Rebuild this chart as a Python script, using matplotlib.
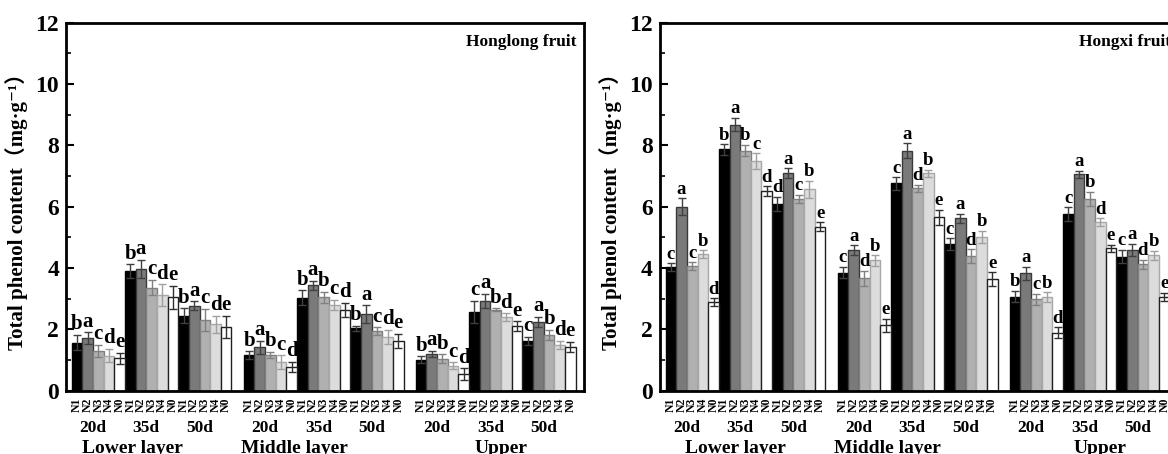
import numpy as np
import matplotlib
matplotlib.use('Agg')
from matplotlib import pyplot as plt
from matplotlib.ticker import MultipleLocator

plt.rcParams['font.family'] = ['Liberation Serif', 'Noto Sans CJK SC', 'DejaVu Serif']
plt.rcParams['font.weight'] = 'bold'

treatments = ['N1', 'N2', 'N3', 'N4', 'N0']
days = ['20d', '35d', '50d']
layers = ['Lower layer', 'Middle layer', 'Upper']

# rows: Lower 20/35/50d, Middle 20/35/50d, Upper 20/35/50d ; cols: N1 N2 N3 N4 N0
honglong_mean = [
    [1.57, 1.72, 1.30, 1.14, 1.06],
    [3.90, 3.96, 3.36, 3.12, 3.05],
    [2.45, 2.77, 2.31, 2.17, 2.08],
    [1.15, 1.41, 1.17, 0.94, 0.77],
    [3.03, 3.44, 3.04, 2.80, 2.63],
    [2.03, 2.50, 1.95, 1.75, 1.62],
    [1.01, 1.21, 1.05, 0.81, 0.54],
    [2.58, 2.93, 2.64, 2.40, 2.10],
    [1.62, 2.24, 1.82, 1.50, 1.42],
]
honglong_err = [
    [0.25, 0.19, 0.20, 0.22, 0.18],
    [0.22, 0.30, 0.25, 0.35, 0.37],
    [0.24, 0.14, 0.36, 0.28, 0.36],
    [0.13, 0.21, 0.10, 0.22, 0.17],
    [0.25, 0.14, 0.19, 0.16, 0.23],
    [0.09, 0.28, 0.12, 0.24, 0.24],
    [0.11, 0.10, 0.14, 0.11, 0.19],
    [0.36, 0.22, 0.05, 0.13, 0.16],
    [0.13, 0.16, 0.17, 0.13, 0.17],
]
honglong_letters = ['bacde', 'bacde', 'bacde', 'babcd', 'babcd', 'bacde',
                    'babcd', 'cabde', 'cabde']

hongxi_mean = [
    [4.02, 6.00, 4.06, 4.45, 2.88],
    [7.87, 8.68, 7.83, 7.48, 6.50],
    [6.09, 7.09, 6.25, 6.57, 5.35],
    [3.85, 4.59, 3.66, 4.25, 2.13],
    [6.76, 7.83, 6.60, 7.09, 5.65],
    [4.78, 5.62, 4.39, 5.02, 3.63],
    [3.07, 3.83, 2.98, 3.05, 1.89],
    [5.75, 7.06, 6.25, 5.50, 4.64],
    [4.37, 4.59, 4.12, 4.41, 3.07],
]
hongxi_err = [
    [0.13, 0.27, 0.13, 0.13, 0.13],
    [0.17, 0.21, 0.18, 0.26, 0.16],
    [0.23, 0.16, 0.13, 0.27, 0.14],
    [0.19, 0.15, 0.24, 0.17, 0.21],
    [0.20, 0.24, 0.11, 0.11, 0.24],
    [0.19, 0.14, 0.22, 0.20, 0.23],
    [0.19, 0.21, 0.17, 0.16, 0.18],
    [0.23, 0.11, 0.24, 0.12, 0.11],
    [0.22, 0.21, 0.14, 0.16, 0.13],
]
hongxi_letters = ['cacbd', 'babcd', 'dacbe', 'cadbe', 'cadbe', 'cadbe',
                  'bacbd', 'cabde', 'cadbe']

fills = ['#000000', '#7a7a7a', '#b0b0b0', '#dcdcdc', '#ffffff']
edges = ['#000000', '#3a3a3a', '#808080', '#a8a8a8', '#202020']
errcols = ['#404040', '#404040', '#808080', '#a0a0a0', '#303030']

gap = 1.15


def bar_x(g, t):
    layer, day = divmod(g, 3)
    return layer * (15 + gap) + day * 5 + t


def draw(ax, means, errs, letters, title, layer_shift, letter_size):
    means = np.array(means)
    errs = np.array(errs)
    for t in range(5):
        xs = [bar_x(g, t) for g in range(9)]
        ax.bar(xs, means[:, t], width=1.0, color=fills[t], edgecolor=edges[t],
               linewidth=1.0, zorder=2)
        ax.errorbar(xs, means[:, t], yerr=errs[:, t], fmt='none', ecolor=errcols[t],
                    elinewidth=1.0, capsize=3, capthick=1.0, zorder=3)
        for g in range(9):
            ax.text(xs[g], means[g, t] + errs[g, t] + 0.02, letters[g][t],
                    ha='center', va='bottom', fontsize=letter_size,
                    fontweight='bold', zorder=4)

    allx = [bar_x(g, t) for g in range(9) for t in range(5)]
    ax.set_xticks(allx)
    ax.set_xticklabels(treatments * 9, rotation=90, fontsize=8.5, fontweight='bold')
    ax.tick_params(axis='x', length=0, pad=5)

    tr = ax.get_xaxis_transform()
    for g in range(9):
        ax.text(bar_x(g, 2) - 0.5, -0.102, days[g % 3], transform=tr,
                ha='center', va='center', fontsize=12.5, fontweight='bold')
    for L in range(3):
        ax.text(bar_x(L * 3 + 1, 2) + layer_shift[L], -0.156, layers[L], transform=tr,
                ha='center', va='center', fontsize=14, fontweight='bold')

    ax.set_xlim(-1.03, bar_x(8, 4) + 0.5 + 0.78)
    ax.set_ylim(0, 12)
    ax.yaxis.set_major_locator(MultipleLocator(2))
    ax.yaxis.set_minor_locator(MultipleLocator(1))
    ax.tick_params(axis='y', which='major', direction='in', length=6, width=1.5,
                   labelsize=17, pad=5)
    ax.tick_params(axis='y', which='minor', direction='in', length=3.5, width=1.2)
    for lab in ax.get_yticklabels():
        lab.set_fontweight('bold')
    for s in ax.spines.values():
        s.set_linewidth(2)
    ax.set_ylabel('Total phenol content（mg·g⁻¹）', fontsize=15, fontweight='bold',
                  labelpad=5)
    ax.text(0.986, 0.947, title, transform=ax.transAxes, ha='right', va='center',
            fontsize=12.5, fontweight='bold')


fig = plt.figure(figsize=(11.68, 4.54), dpi=100)
ax1 = fig.add_axes([0.0565, 0.1394, 0.4435, 0.8106])
ax2 = fig.add_axes([0.565, 0.1394, 0.4435, 0.8106])

draw(ax1, honglong_mean, honglong_err, honglong_letters, 'Honglong fruit',
     [-1.8, -2.7, 0.5], 15)
draw(ax2, hongxi_mean, hongxi_err, hongxi_letters, 'Hongxi fruit',
     [-0.9, -2.8, 1.0], 13.5)

fig.savefig('out.png', dpi=100)
